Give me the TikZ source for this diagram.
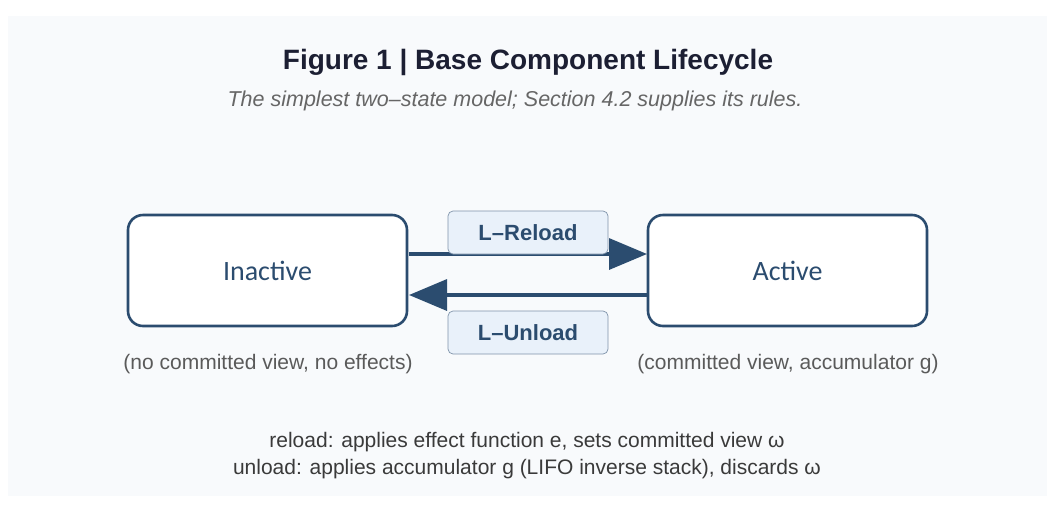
\documentclass[tikz,border=0pt]{standalone}
\usepackage{fontspec}
\setmainfont{Liberation Sans}
\newfontfamily\boxfont{Carlito}
\usetikzlibrary{arrows.meta}
\definecolor{navy}{HTML}{2B4C6F}
\definecolor{panel}{HTML}{F8FAFC}
\definecolor{lblfill}{HTML}{E9F1FA}
\definecolor{lbldraw}{HTML}{7F93AA}
\definecolor{titlec}{HTML}{1C1F33}
\definecolor{subc}{HTML}{666666}
\definecolor{capc}{HTML}{5A5A5A}
\definecolor{notec}{HTML}{3A3A3A}
\tikzset{
  state/.style={draw=navy, line width=2.6pt, rounded corners=15pt, fill=white,
    minimum width=279pt, minimum height=111pt, inner sep=0pt,
    font=\boxfont\fontsize{28}{32}\selectfont, text=navy},
  lbl/.style={draw=lbldraw, line width=0.7pt, rounded corners=5pt, fill=lblfill,
    minimum width=160pt, minimum height=43pt, inner sep=0pt,
    font=\bfseries\fontsize{22}{26}\selectfont, text=navy},
  conn/.style={draw=navy, line width=3.4pt, -{Triangle[length=38pt,width=31pt]}},
  captext/.style={font=\fontsize{21}{24}\selectfont, text=capc},
  note/.style={font=\fontsize{21}{24}\selectfont, text=notec}
}
\begin{document}
\begin{tikzpicture}[x=1pt,y=-1pt]
\useasboundingbox (0,0) rectangle (1054,504);
\fill[white] (0,0) rectangle (1054,504);
\fill[panel] (8,16) rectangle (1047,496);
\node (title) at (528,62) {\fontsize{28}{32}\selectfont\bfseries\color{titlec}Figure 1 | Base Component Lifecycle};
\node (sub) at (515,101) {\fontsize{21.5}{24}\selectfont\itshape\color{subc}The simplest two–state model; Section 4.2 supplies its rules.};
\node[state] (inact) at (267.5,270.5) {\raisebox{-3pt}{Inactive}};
\node[state] (act) at (787.5,270.5) {\raisebox{-3pt}{Active}};
\coordinate (a1) at (409,254);
\coordinate (b1) at (647,254);
\coordinate (a2) at (647,295);
\coordinate (b2) at (409,295);
\draw[conn] (a1) -- (b1);
\draw[conn] (a2) -- (b2);
\node[lbl] (rl) at (528,232.5) {L–Reload};
\node[lbl] (ul) at (528,332.5) {L–Unload};
\node[captext] (c1) at (268,364) {(no committed view, no effects)};
\node[captext] (c2) at (788,364) {(committed view, accumulator g)};
\node[note] (n1) at (527,442) {reload: applies effect function e, sets committed view ω};
\node[note] (n2) at (527,469) {unload: applies accumulator g (LIFO inverse stack), discards ω};
\end{tikzpicture}
\end{document}
